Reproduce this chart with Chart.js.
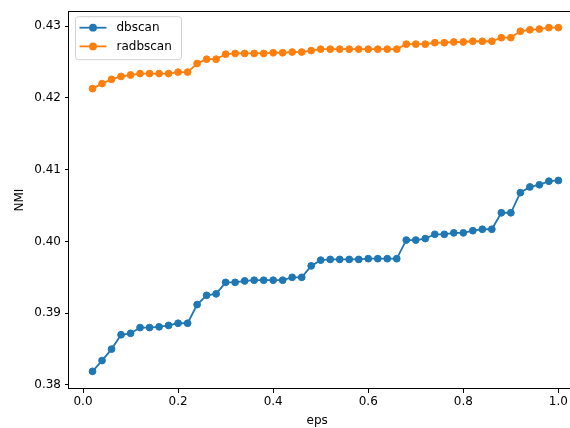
<!DOCTYPE html>
<html>
<head>
<meta charset="utf-8">
<script src="https://cdn.jsdelivr.net/npm/chart.js@4/dist/chart.umd.min.js"></script>
<style>
  html, body { margin: 0; padding: 0; background: #fff; overflow: hidden; }
  #wrap { width: 570px; height: 428px; }
</style>
</head>
<body>
<div id="wrap"><canvas id="c" width="570" height="428"></canvas></div>
<script>
// eps values swept for the clustering runs
const eps = [0.02, 0.04, 0.06, 0.08, 0.10, 0.12, 0.14, 0.16, 0.18, 0.20,
             0.22, 0.24, 0.26, 0.28, 0.30, 0.32, 0.34, 0.36, 0.38, 0.40,
             0.42, 0.44, 0.46, 0.48, 0.50, 0.52, 0.54, 0.56, 0.58, 0.60,
             0.62, 0.64, 0.66, 0.68, 0.70, 0.72, 0.74, 0.76, 0.78, 0.80,
             0.82, 0.84, 0.86, 0.88, 0.90, 0.92, 0.94, 0.96, 0.98, 1.00];

// NMI for plain DBSCAN
const dbscanNMI = [0.3819, 0.3834, 0.3850, 0.3870, 0.3872, 0.3880, 0.3880, 0.3881, 0.3883, 0.3886,
                   0.3886, 0.3912, 0.3925, 0.3927, 0.3943, 0.3943, 0.3945, 0.3946, 0.3946, 0.3946,
                   0.3946, 0.3950, 0.3950, 0.3966, 0.3974, 0.3975, 0.3975, 0.3975, 0.3975, 0.3976,
                   0.3976, 0.3976, 0.3976, 0.4002, 0.4002, 0.4004, 0.4010, 0.4010, 0.4012, 0.4012,
                   0.4015, 0.4017, 0.4017, 0.4040, 0.4040, 0.4068, 0.4076, 0.4079, 0.4084, 0.4085];

// NMI for RA-DBSCAN
const radbscanNMI = [0.4213, 0.4220, 0.4226, 0.4230, 0.4232, 0.4234, 0.4234, 0.4234, 0.4234, 0.4236,
                     0.4236, 0.4248, 0.4254, 0.4254, 0.4261, 0.4262, 0.4262, 0.4262, 0.4262, 0.4263,
                     0.4263, 0.4264, 0.4264, 0.4266, 0.4268, 0.4268, 0.4268, 0.4268, 0.4268, 0.4268,
                     0.4268, 0.4268, 0.4268, 0.4275, 0.4275, 0.4275, 0.4277, 0.4277, 0.4278, 0.4278,
                     0.4279, 0.4279, 0.4279, 0.4284, 0.4284, 0.4293, 0.4295, 0.4296, 0.4298, 0.4298];

const seriesNames = ['dbscan', 'radbscan'];
const seriesColors = ['#1f77b4', '#ff7f0e'];

const xTicks = [0.0, 0.2, 0.4, 0.6, 0.8, 1.0];
const yTicks = [0.38, 0.39, 0.40, 0.41, 0.42, 0.43];

const FONT = { family: 'DejaVu Sans', size: 12 };

function pairs(ys) { return eps.map((x, i) => ({ x: x, y: ys[i] })); }

function makeSet(name, color, values) {
  return {
    label: name,
    data: pairs(values),
    borderColor: color,
    backgroundColor: color,
    borderWidth: 1.8,
    pointRadius: 3.4,
    pointBorderWidth: 1,
    pointBorderColor: color,
    pointBackgroundColor: color,
    pointHoverRadius: 3.4,
    tension: 0,
    clip: 8
  };
}

// Left, top and bottom spines (the right one lies beyond the canvas edge)
const framePlugin = {
  id: 'frame',
  afterDatasetsDraw(chart) {
    const a = chart.chartArea, ctx = chart.ctx;
    const l = Math.round(a.left) - 1, t = Math.round(a.top);
    const b = Math.round(a.bottom) - 1;
    ctx.save();
    ctx.fillStyle = '#000';
    ctx.fillRect(l, t, chart.width - l, 1);
    ctx.fillRect(l, b, chart.width - l, 1);
    ctx.fillRect(l, t, 1, b - t + 1);
    ctx.restore();
  }
};

// Legend box in the upper-left corner of the plot
const insetLegend = {
  id: 'insetLegend',
  afterDraw(chart) {
    const ctx = chart.ctx, a = chart.chartArea;
    const sets = chart.data.datasets;
    const x0 = a.left + 6.5, y0 = a.top + 5.5;
    const w = 106, h = 43, r = 3;
    ctx.save();
    ctx.beginPath();
    ctx.roundRect(x0, y0, w, h, r);
    ctx.fillStyle = 'rgba(255,255,255,0.8)';
    ctx.fill();
    ctx.strokeStyle = '#d0d0d0';
    ctx.lineWidth = 1;
    ctx.stroke();
    ctx.font = FONT.size + 'px ' + FONT.family;
    ctx.textBaseline = 'middle';
    ctx.textAlign = 'left';
    sets.forEach((ds, i) => {
      const cy = y0 + 11 + i * 18.7;
      ctx.strokeStyle = ds.borderColor;
      ctx.lineWidth = 1.8;
      ctx.beginPath();
      ctx.moveTo(x0 + 4, cy);
      ctx.lineTo(x0 + 31, cy);
      ctx.stroke();
      ctx.fillStyle = ds.borderColor;
      ctx.beginPath();
      ctx.arc(x0 + 17.5, cy, 3.9, 0, Math.PI * 2);
      ctx.fill();
      ctx.fillStyle = '#000';
      ctx.fillText(ds.label, x0 + 41, cy);
    });
    ctx.restore();
  }
};

new Chart(document.getElementById('c'), {
  type: 'line',
  data: {
    datasets: [
      makeSet(seriesNames[0], seriesColors[0], dbscanNMI),
      makeSet(seriesNames[1], seriesColors[1], radbscanNMI)
    ]
  },
  options: {
    responsive: false,
    animation: false,
    devicePixelRatio: 1,
    layout: { padding: { left: 0, right: 0, top: 11, bottom: 0 } },
    plugins: { legend: { display: false }, tooltip: { enabled: false } },
    events: [],
    scales: {
      x: {
        type: 'linear',
        min: -0.0295,
        max: 1.0147,
        afterFit(scale) { scale.height = 39; },
        afterBuildTicks(scale) { scale.ticks = xTicks.map(v => ({ value: v })); },
        ticks: {
          font: FONT, color: '#000', padding: 2,
          autoSkip: false, maxRotation: 0,
          callback: v => Number(v).toFixed(1)
        },
        grid: { display: true, drawOnChartArea: false, drawTicks: true, tickLength: 4, color: '#000', lineWidth: 1 },
        border: { display: false },
        title: { display: true, text: 'eps', font: FONT, color: '#000', padding: { top: 0, bottom: 0 } }
      },
      y: {
        type: 'linear',
        min: 0.37944,
        max: 0.43209,
        afterFit(scale) { scale.width = 69; },
        afterBuildTicks(scale) { scale.ticks = yTicks.map(v => ({ value: v })); },
        ticks: {
          font: FONT, color: '#000', padding: 4,
          autoSkip: false,
          callback: v => Number(v).toFixed(2)
        },
        grid: { display: true, drawOnChartArea: false, drawTicks: true, tickLength: 4, color: '#000', lineWidth: 1 },
        border: { display: false },
        title: { display: true, text: 'NMI', font: FONT, color: '#000', padding: { top: 13, bottom: 0 } }
      }
    }
  },
  plugins: [framePlugin, insetLegend]
});
</script>
</body>
</html>
